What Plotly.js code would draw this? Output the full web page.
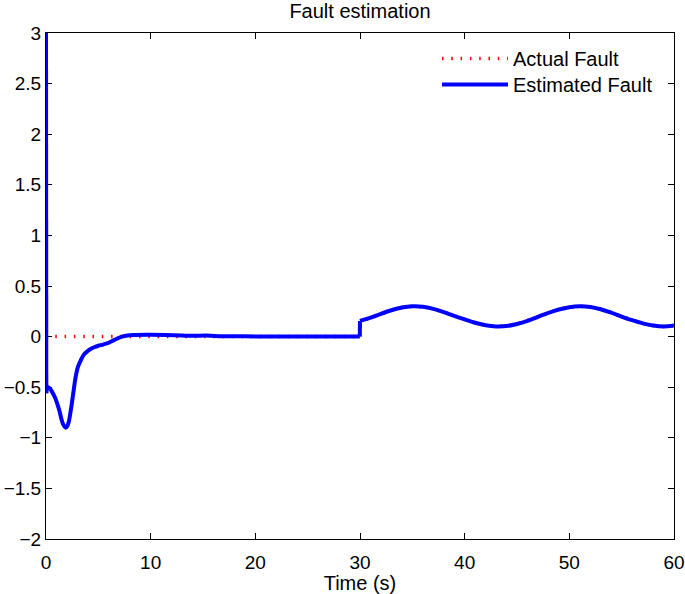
<!DOCTYPE html>
<html><head><meta charset="utf-8">
<script src="https://cdn.plot.ly/plotly-3.0.1.min.js"></script>
<style>html,body{margin:0;padding:0;background:#fff;}#chart{width:685px;height:594px;}</style>
</head><body><div id="chart"></div>
<script>
// Actual fault
const actualT = [0, 29.98, 30, 31, 32, 33, 34, 35, 36, 37, 38, 39, 40, 41, 42, 43, 44, 45, 46, 47, 48, 49, 50, 51, 52, 53, 54, 55, 56, 57, 58, 59, 60];
const actualV = [0, 0, 0.146, 0.184, 0.223, 0.259, 0.287, 0.299, 0.294, 0.273, 0.241, 0.203, 0.171, 0.137, 0.112, 0.100, 0.104, 0.125, 0.156, 0.196, 0.235, 0.268, 0.291, 0.300, 0.293, 0.270, 0.236, 0.198, 0.162, 0.131, 0.110, 0.100, 0.109];

// Estimated fault: initial spike, transient, then tracking after the jump at t = 30
const estT = [0,
  0.03, 0.12, 0.35, 0.6, 0.85, 1.08, 1.3, 1.46, 1.65, 1.88, 2.05, 2.2, 2.35, 2.51, 2.67, 2.83, 3.05, 3.3, 3.6, 3.95, 4.3, 4.6, 5.0, 5.4, 5.9, 6.4, 6.9, 7.4, 8.3, 9.9, 12.2, 14, 15.3, 17, 20, 25, 29.98,
  30, 31, 32, 33, 34, 35, 36, 37, 38, 39, 40, 41, 42, 43, 44, 45, 46, 47, 48, 49, 50, 51, 52, 53, 54, 55, 56, 57, 58, 59, 60];
const estV = [3.0,
  -0.56, -0.50, -0.51, -0.55, -0.60, -0.665, -0.74, -0.81, -0.87, -0.90, -0.88, -0.83, -0.74, -0.63, -0.51, -0.40, -0.30, -0.24, -0.18, -0.145, -0.12, -0.105, -0.09, -0.08, -0.065, -0.04, -0.015, 0.003, 0.015, 0.018, 0.014, 0.008, 0.01, 0.004, 0.002, 0.0, 0.0,
  0.155, 0.188, 0.225, 0.260, 0.287, 0.299, 0.295, 0.274, 0.242, 0.204, 0.170, 0.137, 0.112, 0.100, 0.104, 0.125, 0.156, 0.196, 0.235, 0.268, 0.291, 0.300, 0.293, 0.270, 0.236, 0.198, 0.162, 0.131, 0.110, 0.100, 0.109];

const xTicks = [0, 10, 20, 30, 40, 50, 60];
const yTicks = [-2, -1.5, -1, -0.5, 0, 0.5, 1, 1.5, 2, 2.5, 3];

const fam = 'Liberation Sans, Arial, sans-serif';
const font = {family: fam, size: 20, color: '#000'};
const tickFont = {family: fam, size: 19, color: '#000'};

// split indices of the estimated series: spike at t=0, smooth transient, jump at t=30, smooth tail
const iJump = estT.indexOf(30);
const blue = {color: '#0000ff', width: 4};

const traces = [
  {x: actualT, y: actualV, type: 'scatter', mode: 'lines', name: 'Actual Fault', legend: 'legend',
   line: {color: '#ff0000', width: 3.5, dash: '1.5px,7.8px'}},
  {x: estT.slice(0, 2), y: estV.slice(0, 2), type: 'scatter', mode: 'lines', name: 'Estimated Fault',
   legend: 'legend2', legendgroup: 'est', line: blue},
  {x: estT.slice(1, iJump), y: estV.slice(1, iJump), type: 'scatter', mode: 'lines', name: 'Estimated Fault',
   legendgroup: 'est', showlegend: false, line: Object.assign({shape: 'spline', smoothing: 1}, blue)},
  {x: estT.slice(iJump - 1, iJump + 1), y: estV.slice(iJump - 1, iJump + 1), type: 'scatter', mode: 'lines',
   name: 'Estimated Fault', legendgroup: 'est', showlegend: false, line: blue},
  {x: estT.slice(iJump), y: estV.slice(iJump), type: 'scatter', mode: 'lines', name: 'Estimated Fault',
   legendgroup: 'est', showlegend: false, line: Object.assign({shape: 'spline', smoothing: 1}, blue)}
];

const axisCommon = {
  showgrid: false, zeroline: false, showline: true, linecolor: '#000', linewidth: 1,
  mirror: 'ticks', ticks: 'inside', ticklen: 6, tickcolor: '#000', tickwidth: 1,
  tickfont: tickFont, layer: 'below traces', ticklabeloverflow: 'allow'
};

const plotW = 685 - 46 - 11, plotH = 594 - 33 - 55;
const legX = (437 - 46) / plotW;

const layout = {
  width: 685, height: 594,
  margin: {l: 46, r: 11, t: 33, b: 55},
  paper_bgcolor: '#fff', plot_bgcolor: '#fff',
  font: font,
  title: {text: 'Fault estimation', font: font, xref: 'paper', x: 0.5, xanchor: 'center',
          yref: 'container', y: 1 - 4 / 594, yanchor: 'top', pad: {t: 0, b: 0}},
  showlegend: true,
  legend: {x: legX, y: 1 - (39 - 33) / plotH, xanchor: 'left', yanchor: 'top', bgcolor: 'rgba(0,0,0,0)',
           font: font, itemwidth: 66},
  legend2: {x: legX, y: 1 - (65 - 33) / plotH, xanchor: 'left', yanchor: 'top', bgcolor: 'rgba(0,0,0,0)',
           font: font, itemwidth: 66},
  xaxis: Object.assign({}, axisCommon, {range: [0, 60], tickvals: xTicks, ticktext: xTicks.map(String),
    ticklabelstandoff: 6, title: {text: 'Time (s)', font: font, standoff: 0}}),
  yaxis: Object.assign({}, axisCommon, {range: [-2, 3], tickvals: yTicks,
    ticktext: yTicks.map(v => (v < 0 ? '\u2212' + Math.abs(v) : String(v)))})
};

Plotly.newPlot('chart', traces, layout, {displayModeBar: false, staticPlot: true});
</script></body></html>
